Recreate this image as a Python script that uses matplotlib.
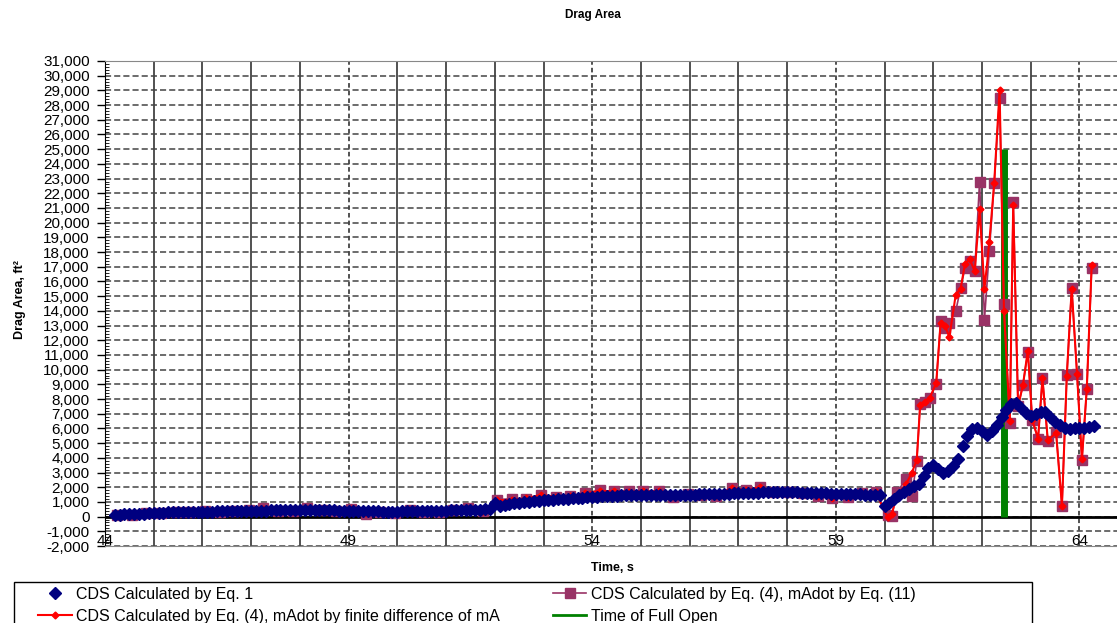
import numpy as np
import matplotlib
matplotlib.use("Agg")
import matplotlib.pyplot as plt
from matplotlib.lines import Line2D
from matplotlib.patches import Rectangle
from matplotlib.ticker import MultipleLocator, FixedLocator, FuncFormatter

plt.rcParams["font.family"] = ["Liberation Sans", "DejaVu Sans"]

# CDS by Eq. 1, sampled every 0.1 s from 44.2 s to 64.3 s
t_eq1 = np.round(np.arange(442, 644) / 10.0, 1)
cds_eq1 = [
    120, 140, 150, 170, 180, 200, 210, 230,
    250, 260, 270, 280, 290, 300, 300, 310, 320, 330,
    330, 340, 340, 350, 350, 360, 370, 380, 380, 390,
    400, 400, 410, 410, 420, 420, 430, 430, 440, 440,
    450, 450, 440, 440, 430, 430, 420, 420, 410, 400,
    390, 380, 370, 360, 360, 350, 350, 340, 340, 340,
    340, 350, 360, 370, 380, 390, 390, 400, 400, 410,
    410, 420, 430, 440, 450, 460, 470, 480, 490, 500,
    950, 750, 800, 850, 900, 930, 960, 1000, 1040, 1070,
    1100, 1120, 1140, 1170, 1190, 1210, 1240, 1260, 1290, 1310,
    1330, 1350, 1370, 1390, 1410, 1420, 1440, 1450, 1460, 1470,
    1480, 1480, 1490, 1490, 1490, 1490, 1490, 1490, 1490, 1490,
    1500, 1500, 1510, 1510, 1520, 1530, 1540, 1550, 1560, 1580,
    1600, 1610, 1620, 1630, 1640, 1650, 1660, 1660, 1670, 1670,
    1670, 1660, 1650, 1640, 1620, 1610, 1600, 1590, 1580, 1570,
    1560, 1550, 1540, 1530, 1520, 1510, 1500, 1500, 1500, 1450,
    750, 950, 1200, 1450, 1650, 1870, 2100, 2250, 2750, 3300,
    3500, 3250, 2970, 3100, 3450, 3950, 4800, 5500, 5950, 6050,
    5800, 5550, 5800, 6250, 6750, 7250, 7650, 7700, 7400, 7050,
    6850, 6950, 7100, 7100, 6800, 6450, 6200, 6000, 5950, 6000,
    6050, 6050, 6100, 6150,
]

# CDS by Eq. (4), both mAdot variants share the same times
t_eq4 = [
    44.25, 44.55, 44.85, 45.15, 45.45, 45.75, 46.05, 46.35, 46.65, 46.95,
    47.25, 47.55, 47.85, 48.15, 48.45, 48.75, 49.05, 49.35, 49.65, 49.95,
    50.25, 50.55, 50.85, 51.15, 51.45, 51.75, 52.05, 52.36, 52.65, 52.95,
    53.25, 53.55, 53.86, 54.15, 54.45, 54.76, 55.05, 55.36, 55.66, 55.97,
    56.24, 56.55, 56.86, 57.15, 57.45, 57.74, 58.03, 58.32, 58.63, 58.93,
    59.24, 59.53, 59.82,
    60.06, 60.15, 60.25, 60.44, 60.56, 60.66, 60.73, 60.83, 60.93, 61.06,
    61.15, 61.24, 61.33, 61.46, 61.56, 61.65, 61.75, 61.85, 61.95, 62.05,
    62.15, 62.25, 62.36, 62.45, 62.57, 62.64, 62.74, 62.84, 62.94, 63.03,
    63.15, 63.24, 63.35, 63.52, 63.64, 63.74, 63.84, 63.95, 64.05, 64.15,
    64.25,
]
cds_eq4_eq11 = [
    120, 100, 260, 240, 330, 300, 360, 310, 380, 420,
    560, 410, 380, 560, 460, 380, 520, 200, 330, 260,
    420, 300, 330, 430, 560, 380, 1160, 1220, 1220, 1440,
    1330, 1380, 1620, 1780, 1710, 1730, 1730, 1730, 1330, 1560,
    1490, 1420, 1930, 1820, 2000, 1670, 1700, 1600, 1380, 1270,
    1330, 1600, 1670,
    100, 70, 1650, 2540, 1400, 3780, 7650, 7800, 8050, 9030,
    13290, 12800, 13200, 13970, 15550, 16900, 17400, 16700, 22800, 13400,
    18100, 22700, 28500, 14500, 6400, 21400, 7500, 8960, 11200, 6580,
    5280, 9430, 5170, 5740, 750, 9640, 15550, 9700, 3860, 8690,
    16900,
]
cds_eq4_fd = [
    130, 110, 250, 250, 320, 310, 350, 320, 390, 410,
    540, 420, 390, 540, 450, 390, 500, 220, 340, 270,
    410, 310, 340, 420, 540, 390, 1100, 1150, 1250, 1480,
    1350, 1380, 1600, 1750, 1720, 1700, 1720, 1720, 1400, 1500,
    1500, 1450, 1950, 1820, 2000, 1650, 1680, 1600, 1400, 1300,
    1350, 1580, 1650,
    -50, 170, 1500, 2200, 3000, 3840, 7600, 7800, 8100, 9100,
    13200, 13000, 12200, 15100, 15500, 17200, 17500, 16700, 20900, 15500,
    18700, 22700, 29000, 14000, 6500, 21200, 7500, 8960, 11300, 6600,
    5300, 9400, 5200, 5700, 750, 9600, 15500, 9700, 3900, 8700,
    17100,
]

full_open_time = [62.46, 62.46]
full_open_area = [0, 25000]

x_ticks = [44, 49, 54, 59, 64]

fig = plt.figure(figsize=(11.17, 6.23), dpi=100)
ax = fig.add_axes([105 / 1117, 1 - 546 / 623, 1 - 105 / 1117, (546 - 61) / 623])

ax.set_xlim(44, 64.77)
ax.set_ylim(-2000, 31000)

# grid: solid verticals every second, dashed at the labelled ones
ax.xaxis.set_major_locator(FixedLocator(x_ticks))
ax.xaxis.set_minor_locator(MultipleLocator(1))
ax.yaxis.set_major_locator(MultipleLocator(1000))
ax.yaxis.set_minor_locator(MultipleLocator(200))
ax.xaxis.grid(True, which="minor", color="#222222", lw=1.1, ls="-")
ax.xaxis.grid(True, which="major", color="#222222", lw=1.1, ls=(0, (3, 2)))
ax.yaxis.grid(True, which="major", color="#444444", lw=1.1, ls=(0, (4, 2)))
ax.set_axisbelow(True)
ax.axhline(0, color="black", lw=2, zorder=1.5)

ax.yaxis.set_major_formatter(FuncFormatter(lambda v, p: f"{v:,.0f}"))
ax.tick_params(axis="y", which="major", direction="out", length=6, width=1,
               labelsize=11, pad=5)
ax.tick_params(axis="y", which="minor", direction="in", length=3, width=0.6)
ax.tick_params(axis="x", which="both", length=0, labelsize=11, pad=-8.5)

for side in ["top", "bottom"]:
    ax.spines[side].set_color("#888888")
    ax.spines[side].set_linestyle((0, (3, 1)))
ax.spines["right"].set_visible(False)
ax.spines["left"].set_color("black")

ax.plot(full_open_time, full_open_area, color="#008000", lw=5, zorder=2,
        solid_capstyle="butt")
ax.plot(t_eq4, cds_eq4_eq11, color="#993366", lw=1.2, marker="s", ms=7,
        mec="#993366", zorder=3)
ax.plot(t_eq4, cds_eq4_fd, color="#ff0000", lw=1.5, marker="D", ms=3.5,
        zorder=4)
ax.plot(t_eq1, cds_eq1, ls="none", marker="D", ms=6, color="#000080",
        zorder=5)

fig.text(593 / 1117, 1 - 15 / 623, "Drag Area", fontsize=8.5,
         fontweight="bold", ha="center", va="center")
fig.text(20 / 1117, 1 - 300 / 623, "Drag Area, ft²", fontsize=9,
         fontweight="bold", rotation=90, ha="center", va="center")
fig.text(612 / 1117, 1 - 568 / 623, "Time, s", fontsize=9,
         fontweight="bold", ha="center", va="center")

# legend box runs off the bottom of the picture
fig.patches.append(Rectangle((14 / 1117, -0.05), (1032 - 14) / 1117,
                             1 - 582 / 623 + 0.05, transform=fig.transFigure,
                             fill=False, edgecolor="black", lw=1))

handles = [
    Line2D([], [], ls="none", marker="D", ms=6, color="#000080"),
    Line2D([], [], color="#ff0000", lw=1.5, marker="D", ms=3.5),
    Line2D([], [], color="#993366", lw=1.2, marker="s", ms=7),
    Line2D([], [], color="#008000", lw=2),
]
labels = [
    "CDS Calculated by Eq. 1",
    "CDS Calculated by Eq. (4), mAdot by finite difference of mA",
    "CDS Calculated by Eq. (4), mAdot by Eq. (11)",
    "Time of Full Open",
]
fig.legend(handles, labels, loc="upper left",
           bbox_to_anchor=(38 / 1117, 1 - 587 / 623), ncol=2,
           fontsize=11.5, frameon=False, borderpad=0, handlelength=2.1,
           handletextpad=0.3, columnspacing=3.3, labelspacing=0.42,
           borderaxespad=0)

fig.savefig("out.png", dpi=100)
